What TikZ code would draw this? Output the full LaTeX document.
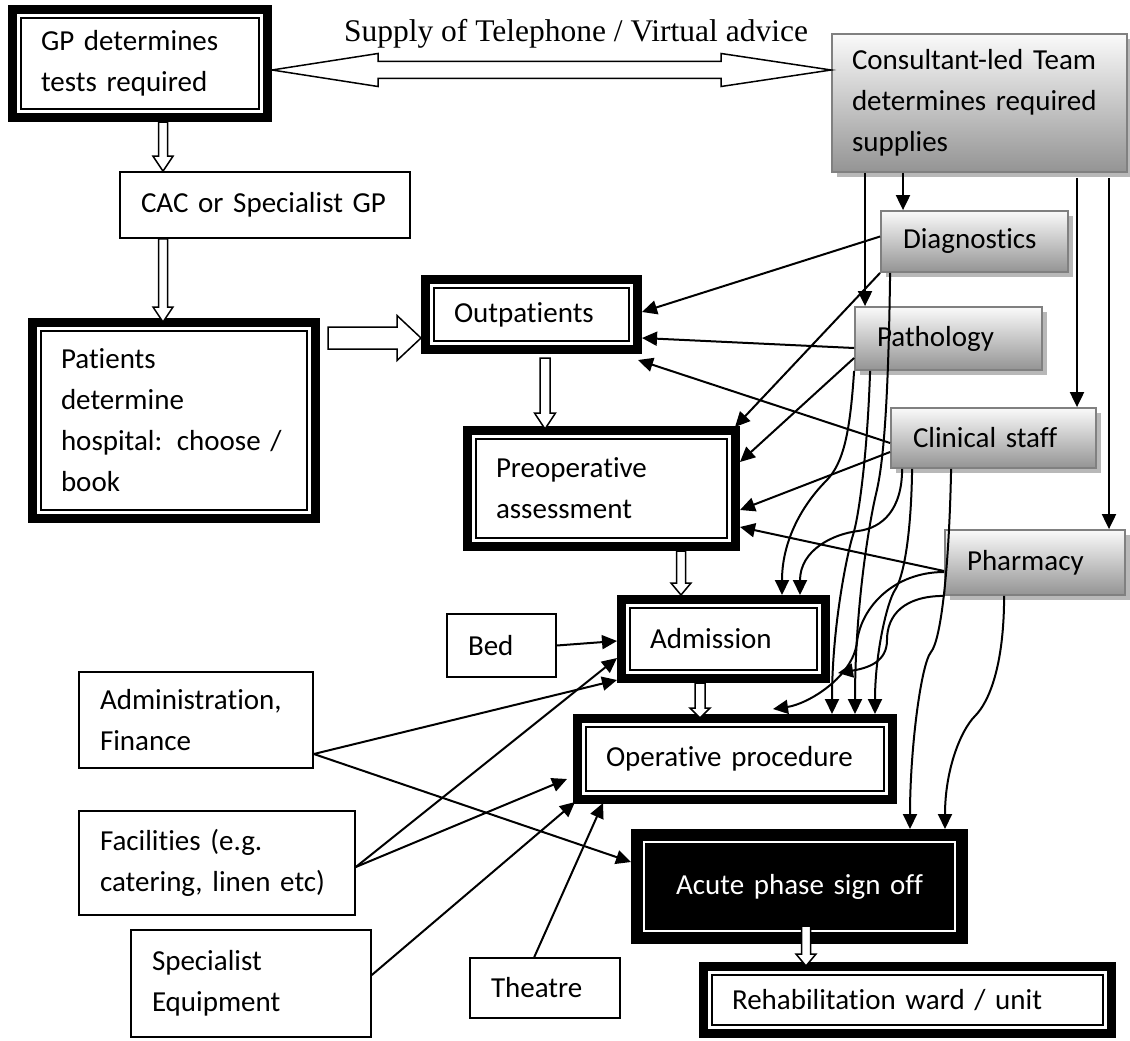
\documentclass[tikz,border=0pt]{standalone}
\usepackage{fontspec}
\setmainfont{Carlito}[Ligatures={NoCommon}]
\newfontfamily\tnr{Liberation Serif}
\usetikzlibrary{arrows.meta,calc,shadows}

% vertical block arrow: start, tip, shaft half width, head half width, head length
\newcommand\vblk[5]{%
  \draw[blk] let \p1=#1, \p2=#2 in
    ({\x1-#3pt},\y1) -- ({\x1-#3pt},{\y2+#5pt}) -- ({\x1-#4pt},{\y2+#5pt}) -- (\x1,\y2)
    -- ({\x1+#4pt},{\y2+#5pt}) -- ({\x1+#3pt},{\y2+#5pt}) -- ({\x1+#3pt},\y1) -- cycle;}
% horizontal block arrow (to the right)
\newcommand\hblk[5]{%
  \draw[blk] let \p1=#1, \p2=#2 in
    (\x1,{\y1+#3pt}) -- ({\x2-#5pt},{\y1+#3pt}) -- ({\x2-#5pt},{\y1+#4pt}) -- (\x2,\y1)
    -- ({\x2-#5pt},{\y1-#4pt}) -- ({\x2-#5pt},{\y1-#3pt}) -- (\x1,{\y1-#3pt}) -- cycle;}

\begin{document}
\begin{tikzpicture}[x=1pt,y=-1pt,
  every node/.style={font=\fontsize{29}{41}\selectfont},
  tbox/.style={draw, line width=1.6pt, fill=white, align=left, inner xsep=21pt, inner ysep=0pt},
  dbox/.style={draw, line width=9pt, fill=white, align=left, inner xsep=28.5pt, inner ysep=0pt,
    path picture={\draw[line width=1.6pt, draw=#1]
      ([shift={(8.3,8.3)}]path picture bounding box.north west) rectangle
      ([shift={(-8.3,-8.3)}]path picture bounding box.south east);}},
  dbox/.default=black,
  gbox/.style={draw=black!50, line width=1.8pt, top color=black!2, bottom color=black!42,
    drop shadow={shadow xshift=5pt, shadow yshift=-5pt, fill=black!28, opacity=1},
    align=left, inner xsep=22pt, inner ysep=0pt},
  conn/.style={line width=2pt, -{Triangle[length=15pt,width=14pt]}},
  blk/.style={draw, fill=white, line width=1.5pt, line join=miter}]

\fill[white] (0,0) rectangle (1130,1041);
\useasboundingbox (0,0) rectangle (1130,1041);

% ---- main boxes
\node[dbox, minimum width=255, minimum height=108, text width=198] (GP) at (140,63.5) {GP determines\\tests required};
\node[tbox, minimum width=290, minimum height=66, text width=248] (CAC) at (265,205) {CAC or Specialist GP};
\node[dbox, minimum width=283, minimum height=196, text width=226] (Pat) at (174,420.5) {Patients\\determine\\hospital: choose /\\book};
\node[dbox, minimum width=212, minimum height=70, text width=155] (Out) at (531.5,314.5) {Outpatients};
\node[dbox, minimum width=268, minimum height=116, text width=211] (Pre) at (601.5,488.5) {Preoperative\\assessment};
\node[dbox, minimum width=204, minimum height=79, text width=147] (Adm) at (723.5,639) {Admission};
\node[dbox, minimum width=315, minimum height=81, text width=258] (Op) at (735,759) {Operative procedure};
\node[dbox=white, fill=black, text=white, align=center, minimum width=328, minimum height=106, text width=271] (Acu) at (799.5,886.5) {Acute phase sign off};
\node[dbox, minimum width=408, minimum height=67, text width=351] (Reh) at (907.5,1000) {Rehabilitation ward / unit};

% ---- resource boxes
\node[tbox, minimum width=109, minimum height=63, text width=67] (Bed) at (501.5,645.5) {Bed};
\node[tbox, minimum width=234, minimum height=96, text width=192] (Admin) at (196,720) {Administration,\\Finance};
\node[tbox, minimum width=276, minimum height=104, text width=234] (Fac) at (217,863) {Facilities (e.g.\\catering, linen etc)};
\node[tbox, minimum width=240, minimum height=107, text width=198] (Spec) at (251,983.5) {Specialist\\Equipment};
\node[tbox, minimum width=150, minimum height=60, text width=108] (Thea) at (545,988) {Theatre};

% ---- supply boxes
\node[gbox, minimum width=295, minimum height=138, text width=255, inner xsep=20pt] (Cons) at (979.5,103) {Consultant-led Team\\determines required\\supplies};
\node[gbox, minimum width=187, minimum height=61, text width=143] (Diag) at (974.5,241.5) {Diagnostics};
\node[gbox, minimum width=187, minimum height=63, text width=143] (Path) at (948.5,338.5) {Pathology};
\node[gbox, minimum width=205, minimum height=60, text width=161] (Clin) at (993.5,438) {Clinical staff};
\node[gbox, minimum width=180, minimum height=65, text width=136] (Pharm) at (1035,562.5) {Pharmacy};

\node[font=\tnr\fontsize{31.5}{36}\selectfont, anchor=base] (sup) at (576,42) {Supply of Telephone / Virtual advice};

% ---- double block arrow GP <-> Consultant
\draw[blk] let \p1=([shift={(0,6.5)}]GP.east), \p2=(Cons.west) in
  (\x1,\y1) -- ({\x1+106pt},{\y1+16.5pt}) -- ({\x1+106pt},{\y1+8.5pt}) -- ({\x2-110pt},{\y1+8.5pt})
  -- ({\x2-110pt},{\y1+16.5pt}) -- (\x2,\y1) -- ({\x2-110pt},{\y1-16.5pt}) -- ({\x2-110pt},{\y1-8.5pt})
  -- ({\x1+106pt},{\y1-8.5pt}) -- ({\x1+106pt},{\y1-16.5pt}) -- cycle;

% ---- white flow arrows
\vblk{(GP.south -| 163,0)}{(CAC.north -| 163,0)}{4.5}{10}{15}
\vblk{(CAC.south -| 163,0)}{($(Pat.north -| 163,0)+(0,4)$)}{4.5}{10}{15}
\hblk{($(Pat.north east)+(8,20)$)}{(Out.west)}{11}{22.5}{24}
\vblk{($(Out.south)+(13.5,4)$)}{($(Pre.north)+(0,3)$)}{5}{10.5}{16}
\vblk{($(Pre.south)+(79.5,0)$)}{(Adm.north)}{4.5}{10}{12}
\vblk{($(Adm.south)+(-23.5,0)$)}{($(Op.north)+(0,4)$)}{5}{10}{10}
\vblk{($(Acu.south)+(6.5,-18)$)}{($(Reh.north)+(0,4)$)}{4.5}{10}{12}

% ---- consultant to supplies
\draw[conn] (903,0 |- Cons.south) -- (903,0 |- Diag.north);
\draw[conn] (865,0 |- Cons.south) -- (865,0 |- Path.north);
\draw[conn] ($(1077,0 |- Cons.south)+(0,5)$) -- (1077,0 |- Clin.north);
\draw[conn] ($(1109,0 |- Cons.south)+(0,5)$) -- (1109,0 |- Pharm.north);

% ---- diagnostics
\draw[conn] ([shift={(0,-5)}]Diag.west) -- ([shift={(0,-2.5)}]Out.east);
\draw[conn] (Diag.south west) -- ([shift={(-5,1)}]Pre.north east);
\draw[conn] ([shift={(10,0)}]Diag.south west) .. controls +(-2,150) and +(6,-25) .. (876,494)
  .. controls +(-6,25) and +(0,-110) .. (855,0 |- Op.north);

% ---- pathology
\draw[conn] ([shift={(0,9.5)}]Path.west) -- ([shift={(0,23.5)}]Out.east);
\draw[conn] ([shift={(0,19.5)}]Path.west) -- ([shift={(0,-26.5)}]Pre.east);
\draw[conn] (Path.south west) .. controls +(-4,60) and +(18,-18) .. (826,481)
  .. controls +(-18,18) and +(0,-60) .. (782,0 |- Adm.north);
\draw[conn] ([shift={(16,0)}]Path.south west) .. controls +(-3,90) and +(5,-15) .. (853,535)
  .. controls +(-5,15) and +(0,-90) .. (832,0 |- Op.north);

% ---- clinical staff
\draw[conn] ([shift={(0,5)}]Clin.west) -- ([shift={(-4,6)}]Out.south east);
\draw[conn] ([shift={(0,14)}]Clin.west) -- ([shift={(0,21.5)}]Pre.east);
\draw[conn] ([shift={(12,0)}]Clin.south west) .. controls +(0,40) and +(25,-3) .. (858,531)
  .. controls +(-25,3) and +(0,-45) .. (800,0 |- Adm.north);
\draw[conn] ([shift={(22,0)}]Clin.south west) .. controls +(-1,70) and +(8,-12) .. (895,590)
  .. controls +(-8,12) and +(0,-60) .. (875,0 |- Op.north);
\draw[conn] ([shift={(61,0)}]Clin.south west) .. controls +(-2,100) and +(10,-12) .. (931,652)
  .. controls +(-10,12) and +(0,-80) .. (910,0 |- Acu.north);

% ---- pharmacy
\draw[conn] ([shift={(0,8.5)}]Pharm.west) -- ([shift={(0,38.5)}]Pre.east);
\draw[conn] ([shift={(0,9.5)}]Pharm.west) .. controls +(-50,0) and +(4,-35) .. (857,642)
  .. controls +(-4,35) and +(35,-5) .. ($(773,0 |- Op.north)+(0,-5)$);
\draw[conn] (Pharm.south west) .. controls +(-40,0) and +(0,-25) .. (887,640)
  .. controls +(0,22) and +(30,-5) .. ([shift={(8,34)}]Adm.east);
\draw[conn] ([shift={(60,0)}]Pharm.south west) .. controls +(0,70) and +(14,-14) .. (975,716)
  .. controls +(-14,14) and +(0,-60) .. (945,0 |- Acu.north);

% ---- resources
\draw[conn] (Bed.east) -- ([shift={(0,2)}]Adm.west);
\draw[conn] ([shift={(0,34)}]Admin.east) -- ([shift={(0,-3)}]Adm.south west);
\draw[conn] ([shift={(0,34)}]Admin.east) -- ([shift={(0,-24.5)}]Acu.west);
\draw[conn] ([shift={(0,4)}]Fac.east) -- ([shift={(0,19)}]Adm.west);
\draw[conn] ([shift={(0,4)}]Fac.east) -- ([shift={(-6,20)}]Op.west);
\draw[conn] ([shift={(0,-8.5)}]Spec.east) -- ([shift={(2,-2)}]Op.south west);
\draw[conn] ([shift={(65,0)}]Thea.north west) -- ([shift={(30,-1)}]Op.south west);

\end{tikzpicture}
\end{document}
